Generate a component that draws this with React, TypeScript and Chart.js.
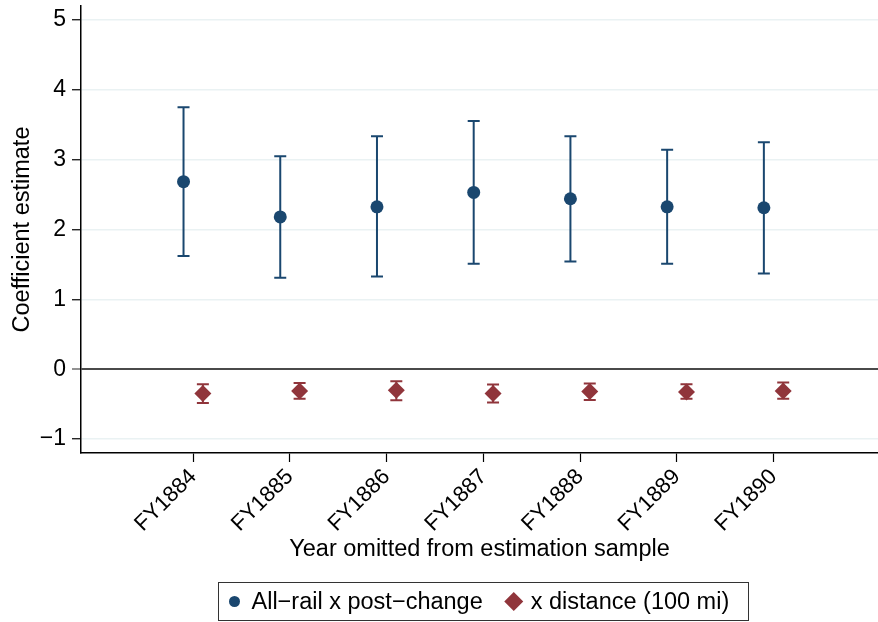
import React, { useEffect, useRef } from 'react';
import { Chart, registerables } from 'chart.js';

Chart.register(...registerables);

// ---- data ----
const categories = ['FY1884', 'FY1885', 'FY1886', 'FY1887', 'FY1888', 'FY1889', 'FY1890'];
const railEst = [2.685, 2.18, 2.325, 2.531, 2.44, 2.325, 2.311];
const railLo = [1.62, 1.31, 1.328, 1.509, 1.543, 1.509, 1.371];
const railHi = [3.75, 3.05, 3.334, 3.553, 3.334, 3.142, 3.248];
const distEst = [-0.349, -0.311, -0.301, -0.349, -0.32, -0.325, -0.311];
const distLo = [-0.483, -0.425, -0.444, -0.478, -0.44, -0.425, -0.425];
const distHi = [-0.215, -0.196, -0.172, -0.22, -0.205, -0.215, -0.19];
const yTicks = [-1, 0, 1, 2, 3, 4, 5];
const seriesLabels = ['All\u2212rail x post\u2212change', 'x distance (100 mi)'];

const BLUE = '#1a476f';
const RED = '#90353b';
const FONT = '"Liberation Sans", Arial, Helvetica, sans-serif';
const OFFSET = 0.1;

const errorBarPlugin = {
  id: 'errorBars',
  beforeDatasetsDraw(chart: any) {
    const { ctx, scales } = chart;
    const xs = scales.x;
    const ys = scales.y;
    chart.data.datasets.forEach((ds: any) => {
      ctx.save();
      ctx.strokeStyle = ds.errColor;
      ctx.lineWidth = 2;
      ds.data.forEach((pt: any, i: number) => {
        const px = xs.getPixelForValue(pt.x);
        const top = ys.getPixelForValue(ds.errHi[i]);
        const bot = ys.getPixelForValue(ds.errLo[i]);
        const cap = 6;
        ctx.beginPath();
        ctx.moveTo(px, top);
        ctx.lineTo(px, bot);
        ctx.moveTo(px - cap, top);
        ctx.lineTo(px + cap, top);
        ctx.moveTo(px - cap, bot);
        ctx.lineTo(px + cap, bot);
        ctx.stroke();
      });
      ctx.restore();
    });
  },
};

const legendPlugin = {
  id: 'boxLegend',
  afterDraw(chart: any) {
    const { ctx, chartArea } = chart;
    const dsets = chart.data.datasets;
    ctx.save();
    ctx.font = '23.5px ' + FONT;
    const widths = dsets.map((d: any) => ctx.measureText(d.label).width);
    const padL = 16, txtOff = 17, gap = 31, padR = 19;
    let total = padL + padR + gap * (dsets.length - 1);
    widths.forEach((w: number) => { total += txtOff + w; });
    const cx = (chartArea.left + chartArea.right) / 2 + 3;
    const left = Math.round(cx - total / 2) + 0.5;
    const h = 38;
    const top = chart.height - h - 1.5;
    ctx.strokeStyle = '#333333';
    ctx.lineWidth = 1;
    ctx.strokeRect(left, top, Math.round(total), h);
    const cy = top + h / 2;
    let x = left + padL;
    dsets.forEach((d: any, i: number) => {
      ctx.fillStyle = d.backgroundColor;
      ctx.beginPath();
      if (d.pointStyle === 'rectRot') {
        const r = 9.5;
        ctx.moveTo(x - r, cy);
        ctx.lineTo(x, cy - r);
        ctx.lineTo(x + r, cy);
        ctx.lineTo(x, cy + r);
        ctx.closePath();
      } else {
        ctx.arc(x, cy, 5.5, 0, Math.PI * 2);
      }
      ctx.fill();
      ctx.fillStyle = '#000';
      ctx.textAlign = 'left';
      ctx.textBaseline = 'middle';
      ctx.fillText(d.label, x + txtOff, cy + 1);
      x += txtOff + widths[i] + gap;
    });
    ctx.restore();
  },
};

export default function App() {
  const ref = useRef<HTMLCanvasElement | null>(null);

  useEffect(() => {
    if (!ref.current) return;
    const chart = new Chart(ref.current, {
      type: 'scatter',
      data: {
        datasets: [
          {
            label: seriesLabels[0],
            data: railEst.map((v, i) => ({ x: i + 1 - OFFSET, y: v })),
            errLo: railLo,
            errHi: railHi,
            errColor: BLUE,
            backgroundColor: BLUE,
            borderColor: BLUE,
            borderWidth: 0,
            pointStyle: 'circle',
            pointRadius: 6.5,
            showLine: false,
          } as any,
          {
            label: seriesLabels[1],
            data: distEst.map((v, i) => ({ x: i + 1 + OFFSET, y: v })),
            errLo: distLo,
            errHi: distHi,
            errColor: RED,
            backgroundColor: RED,
            borderColor: RED,
            borderWidth: 0,
            pointStyle: 'rectRot',
            pointRadius: 8.5,
            showLine: false,
          } as any,
        ],
      },
      options: {
        animation: false,
        responsive: false,
        maintainAspectRatio: false,
        layout: { autoPadding: false, padding: { top: 6, right: 0, bottom: 58, left: 0 } },
        plugins: {
          legend: { display: false },
          tooltip: { enabled: false },
        },
        scales: {
          x: {
            type: 'linear',
            min: -0.16,
            max: 8.08,
            afterBuildTicks: (s: any) => {
              s.ticks = categories.map((_, i) => ({ value: i + 1 }));
            },
            afterFit: (s: any) => {
              s.height = 111;
              s.paddingLeft = 0;
              s.paddingRight = 0;
            },
            ticks: {
              autoSkip: false,
              minRotation: 45,
              maxRotation: 45,
              padding: 2,
              color: '#000',
              font: { family: FONT, size: 22 },
              callback: (v: any) => categories[Math.round(Number(v)) - 1] ?? '',
            },
            grid: {
              drawOnChartArea: false,
              drawTicks: true,
              tickLength: 9,
              tickColor: '#000',
              tickWidth: 1.2,
            },
            border: { display: true, color: '#000', width: 1.5 },
            title: {
              display: true,
              text: 'Year omitted from estimation sample',
              color: '#000',
              font: { family: FONT, size: 23.5 },
              padding: { top: 0, bottom: 0 },
            },
          },
          y: {
            type: 'linear',
            min: -1.2,
            max: 5.2,
            afterBuildTicks: (s: any) => {
              s.ticks = yTicks.map((v) => ({ value: v }));
            },
            afterFit: (s: any) => {
              s.width = 81;
              s.paddingTop = 0;
              s.paddingBottom = 0;
            },
            ticks: {
              padding: 6,
              color: '#000',
              font: { family: FONT, size: 23 },
              callback: (v: any) => (Number(v) < 0 ? '\u2212' + Math.abs(Number(v)) : String(v)),
            },
            grid: {
              color: (c: any) => (c.tick && c.tick.value === 0 ? '#4a4a4a' : '#eaf2f3'),
              lineWidth: (c: any) => (c.tick && c.tick.value === 0 ? 2 : 1.5),
              tickColor: (c: any) => (c.tick && c.tick.value === 0 ? '#4a4a4a' : '#000'),
              tickWidth: 1.2,
              tickLength: 9,
              drawTicks: true,
            },
            border: { display: true, color: '#000', width: 1.5 },
            title: {
              display: true,
              text: 'Coefficient estimate',
              color: '#000',
              font: { family: FONT, size: 23.5 },
              padding: { top: 8, bottom: 0 },
            },
          },
        },
      },
      plugins: [errorBarPlugin, legendPlugin],
    } as any);
    return () => chart.destroy();
  }, []);

  return (
    <div style={{ position: 'absolute', left: 0, top: 0, width: 878, height: 622, background: '#fff' }}>
      <canvas ref={ref} width={878} height={622} style={{ display: 'block', width: 878, height: 622 }} />
    </div>
  );
}
